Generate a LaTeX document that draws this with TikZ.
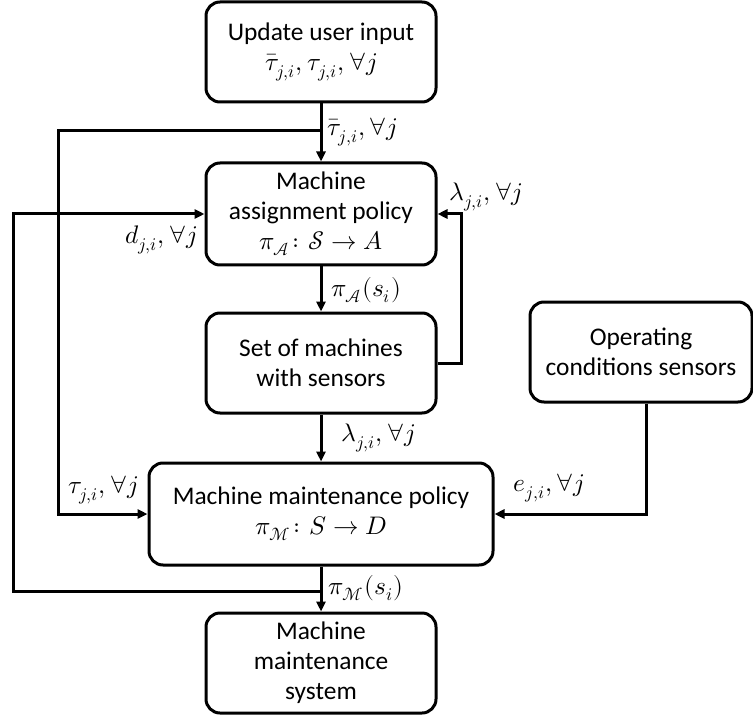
\documentclass[tikz,border=0pt]{standalone}
\usepackage{unicode-math}
\setmainfont{Carlito}
\setmathfont{Latin Modern Math}
\usetikzlibrary{arrows.meta}
\begin{document}
\begin{tikzpicture}[x=0.5pt,y=-0.5pt,
        blk/.style={draw,line width=1.5pt,rounded corners=7pt,align=center,inner sep=0pt,font=\fontsize{12.7}{15}\selectfont},
        flow/.style={line width=1.5pt,-{Triangle[length=5pt,width=4.5pt]}},
        lbl/.style={inner sep=1pt,font=\fontsize{12.7}{15}\selectfont}]
        \useasboundingbox (0,0) rectangle (753,721);
        \node[blk,minimum width=115pt,minimum height=50pt] (inp) at (321,52) {Update user input\\$\bar{\tau}_{j,i},\tau_{j,i},\forall j$};
        \node[blk,minimum width=115pt,minimum height=51pt] (asg) at (321,214) {Machine\\assignment policy\\$\pi_{\mathcal{A}}\colon\mathcal{S}\rightarrow A$};
        \node[blk,minimum width=115pt,minimum height=50pt] (mach) at (321,363) {Set of machines\\with sensors};
        \node[blk,minimum width=111pt,minimum height=50pt] (opc) at (641,352) {Operating\\conditions sensors};
        \node[blk,minimum width=172pt,minimum height=51pt] (mtp) at (321,514) {Machine maintenance policy\\$\pi_{\mathcal{M}}\colon S\rightarrow D$};
        \node[blk,minimum width=115pt,minimum height=50pt] (mts) at (321,663) {Machine\\maintenance\\system};
        \coordinate (br) at (321,131);
        \coordinate (fb) at (321,591);
        \draw[flow] (inp.south) -- (asg.north);
        \draw[flow] (asg.south) -- (mach.north);
        \draw[flow] (mach.south) -- (mtp.north);
        \draw[flow] (mtp.south) -- (mts.north);
        \draw[flow] (br) -- (58,131) |- (mtp.west);
        \draw[flow] (fb) -- (13,591) |- (asg.west);
        \draw[flow] (mach.east) -- (461,363) |- (asg.east);
        \draw[flow] ([xshift=2.5pt]opc.south) |- (mtp.east);
        \node[lbl,anchor=west] (ltb) at (325,132) {$\bar{\tau}_{j,i},\forall j$};
        \node[lbl] (ld) at (161,240) {$d_{j,i},\forall j$};
        \node[lbl] (llt) at (486,197) {$\lambda_{j,i},\forall j$};
        \node[lbl,anchor=west] (lpa) at (329,290) {$\pi_{\mathcal{A}}(s_i)$};
        \node[lbl,anchor=west] (llm) at (339,438) {$\lambda_{j,i},\forall j$};
        \node[lbl] (lt) at (103,490) {$\tau_{j,i},\forall j$};
        \node[lbl] (le) at (549,488) {$e_{j,i},\forall j$};
        \node[lbl,anchor=west] (lpm) at (326,588) {$\pi_{\mathcal{M}}(s_i)$};
\end{tikzpicture}
\end{document}
